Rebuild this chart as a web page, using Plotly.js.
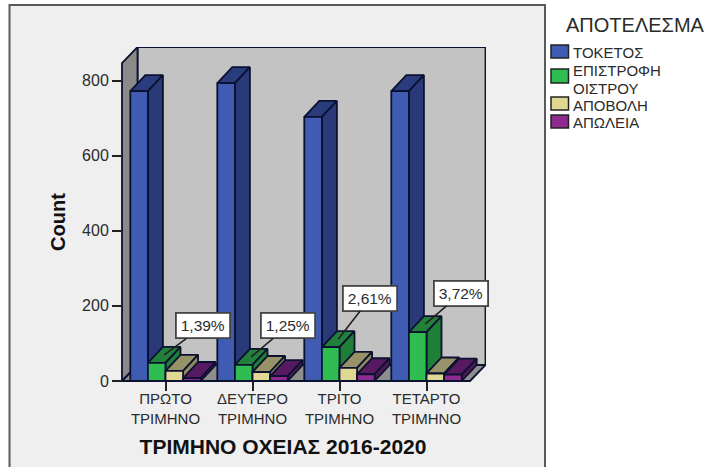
<!DOCTYPE html>
<html>
<head>
<meta charset="utf-8">
<script src="https://cdn.plot.ly/plotly-3.0.1.min.js"></script>
<style>html,body{margin:0;padding:0;background:#fff;overflow:hidden}</style>
</head>
<body>
<div id="chart" style="width:706px;height:467px"></div>
<script>
// Outcome counts per quarter, sheep breeding 2016-2020
const categories = ['ΠΡΩΤΟ<br>ΤΡΙΜΗΝΟ', 'ΔΕΥΤΕΡΟ<br>ΤΡΙΜΗΝΟ', 'ΤΡΙΤΟ<br>ΤΡΙΜΗΝΟ', 'ΤΕΤΑΡΤΟ<br>ΤΡΙΜΗΝΟ'];
const tokos = [772, 793, 703, 772];
const epistrofi = [48, 43, 90, 130];
const apovoli = [27, 24, 35, 20];
const apoleia = [8, 13, 18, 17];
const percentLabels = ['1,39%', '1,25%', '2,61%', '3,72%'];
const labelOffsets = [[39, -29], [37, -31], [32, -41], [36, -31]];
const yTicks = [0, 200, 400, 600, 800];
const legendTitle = 'ΑΠΟΤΕΛΕΣΜΑ';
const xTitle = 'ΤΡΙΜΗΝΟ ΟΧΕΙΑΣ 2016-2020';

const series = [
  { name: 'ΤΟΚΕΤΟΣ', lines: ['ΤΟΚΕΤΟΣ'], values: tokos, front: '#3f5cb2', top: '#2b3c7e', side: '#2a3a78' },
  { name: 'ΕΠΙΣΤΡΟΦΗ ΟΙΣΤΡΟΥ', lines: ['ΕΠΙΣΤΡΟΦΗ', 'ΟΙΣΤΡΟΥ'], values: epistrofi, front: '#2fbd52', top: '#23803a', side: '#207f37' },
  { name: 'ΑΠΟΒΟΛΗ', lines: ['ΑΠΟΒΟΛΗ'], values: apovoli, front: '#e0d892', top: '#989268', side: '#8f8a60' },
  { name: 'ΑΠΩΛΕΙΑ', lines: ['ΑΠΩΛΕΙΑ'], values: apoleia, front: '#8f2a90', top: '#561a60', side: '#4f1758' }
];

// Plot rectangle in page pixels; it reaches past the box so the walls stay inside the axes
const L = 80, R = 486, T = 47, B = 397, zeroY = 381;
const frontTopY = 63;
const pxPerCat = 87, pxPerCount = 0.3756;
const xMin = (L - 165.5) / pxPerCat, xMax = (R - 165.5) / pxPerCat;
const yMin = (zeroY - B) / pxPerCount, yTop = (zeroY - T) / pxPerCount;
const boxHeight = (zeroY - frontTopY) / pxPerCount;
const paperX = px => (px - L) / (R - L);
const paperY = py => (B - py) / (B - T);

// Oblique projection: depth of the box and of each bar, in axis units
const wallDx = 15.5 / pxPerCat, wallDy = 16 / pxPerCount;
const barDx = 15 / pxPerCat, barDy = 16 / pxPerCount;
const barW = 17.6 / pxPerCat;
const edge = '#0b1130';

function poly(name, xs, ys, fill) {
  return {
    type: 'scatter', mode: 'lines', name, x: xs, y: ys, fill: 'toself', fillcolor: fill,
    line: { color: edge, width: 1.8 },
    cliponaxis: false, showlegend: false, hoverinfo: 'skip'
  };
}

const fx0 = -0.5, fx1 = 3.5;
const traces = [
  poly('back wall', [fx0 + wallDx, fx1 + wallDx, fx1 + wallDx, fx0 + wallDx, fx0 + wallDx],
    [wallDy, wallDy, boxHeight + wallDy, boxHeight + wallDy, wallDy], '#c3c3c3'),
  poly('side wall', [fx0, fx0 + wallDx, fx0 + wallDx, fx0, fx0],
    [0, wallDy, boxHeight + wallDy, boxHeight, 0], '#8a8a88'),
  poly('floor', [fx0, fx1, fx1 + wallDx, fx0 + wallDx, fx0],
    [0, 0, wallDy, wallDy, 0], '#8e8e8c')
];

// Each series gets three faces; drawing left to right lets a bar hide its neighbour's side
series.forEach((s, i) => {
  const top = { x: [], y: [] }, side = { x: [], y: [] }, front = { x: [], y: [] };
  s.values.forEach((v, c) => {
    const x0 = c + (i - 2) * barW, x1 = x0 + barW;
    top.x.push(x0, x1, x1 + barDx, x0 + barDx, x0, null);
    top.y.push(v, v, v + barDy, v + barDy, v, null);
    side.x.push(x1, x1 + barDx, x1 + barDx, x1, x1, null);
    side.y.push(0, barDy, v + barDy, v, 0, null);
    front.x.push(x0, x1, x1, x0, x0, null);
    front.y.push(0, 0, v, v, 0, null);
  });
  traces.push(poly(s.name + ' top', top.x, top.y, s.top));
  traces.push(poly(s.name + ' side', side.x, side.y, s.side));
  traces.push(poly(s.name, front.x, front.y, s.front));
});

const txt = '#2b2b2b';
const fontFamily = '"Liberation Sans", Arial, sans-serif';

// Percentage callouts point at the top face of the return-to-oestrus bars
const annotations = percentLabels.map((t, c) => ({
  x: c - barW / 2 + barDx / 2, y: epistrofi[c] + barDy / 2,
  xref: 'x', yref: 'y', axref: 'pixel', ayref: 'pixel',
  ax: labelOffsets[c][0], ay: labelOffsets[c][1],
  text: t, showarrow: true, arrowhead: 0, arrowwidth: 1.6, arrowcolor: '#222',
  bgcolor: '#ffffff', bordercolor: '#444', borderwidth: 1.8, borderpad: 3, width: 46,
  font: { family: fontFamily, size: 15.5, color: txt }
}));

annotations.push({
  xref: 'paper', yref: 'paper', x: paperX(635), y: paperY(25), xanchor: 'center', yanchor: 'middle',
  showarrow: false, text: legendTitle, font: { family: fontFamily, size: 20, color: txt }
});

// Legend rows: swatch box and one text line per row
const legendRows = [[45, 58, [52]], [69, 83, [70, 87.5]], [97, 110, [105]], [115, 128, [122]]];
const shapes = [{
  type: 'rect', xref: 'paper', yref: 'paper', layer: 'below',
  x0: paperX(9.5), x1: paperX(545), y0: paperY(5), y1: paperY(480),
  fillcolor: '#efefef', line: { color: '#5a5a5a', width: 2 }
}];
series.forEach((s, i) => {
  const [top, bottom, centres] = legendRows[i];
  shapes.push({
    type: 'rect', xref: 'paper', yref: 'paper', layer: 'above',
    x0: paperX(551), x1: paperX(568.5), y0: paperY(top), y1: paperY(bottom),
    fillcolor: s.front, line: { color: '#222', width: 1.5 }
  });
  s.lines.forEach((line, k) => annotations.push({
    xref: 'paper', yref: 'paper', x: paperX(571), y: paperY(centres[k]), xanchor: 'left', yanchor: 'middle',
    height: 14, showarrow: false, text: line, font: { family: fontFamily, size: 15, color: txt }
  }));
});

const layout = {
  width: 706, height: 467, autosize: false,
  margin: { l: L, r: 706 - R, t: T, b: 467 - B },
  paper_bgcolor: '#ffffff', plot_bgcolor: 'rgba(0,0,0,0)',
  showlegend: false, hovermode: false,
  font: { family: fontFamily, color: txt },
  xaxis: {
    type: 'linear', range: [xMin, xMax], anchor: 'free', position: (B - zeroY) / (B - T),
    tickmode: 'array', tickvals: [0, 1, 2, 3], ticktext: categories, ticklabelstandoff: -5,
    ticks: 'outside', ticklen: 9, tickwidth: 2, tickcolor: '#222', showgrid: false, zeroline: false, showline: false,
    tickfont: { size: 15, color: txt },
    title: { text: xTitle, standoff: 13, font: { size: 21, color: '#111', family: fontFamily, weight: 'bold' } }
  },
  yaxis: {
    range: [yMin, yTop], anchor: 'free', position: (122 - L) / (R - L), tickmode: 'array', tickvals: yTicks,
    ticks: 'outside', ticklen: 10, tickwidth: 2, tickcolor: '#222', showgrid: false, zeroline: false, showline: false,
    tickfont: { size: 16, color: txt },
    title: { text: 'Count', standoff: 10, font: { size: 20, color: '#111', family: fontFamily, weight: 'bold' } }
  },
  shapes, annotations
};

Plotly.newPlot('chart', traces, layout, { displayModeBar: false, staticPlot: true });
</script>
</body>
</html>
